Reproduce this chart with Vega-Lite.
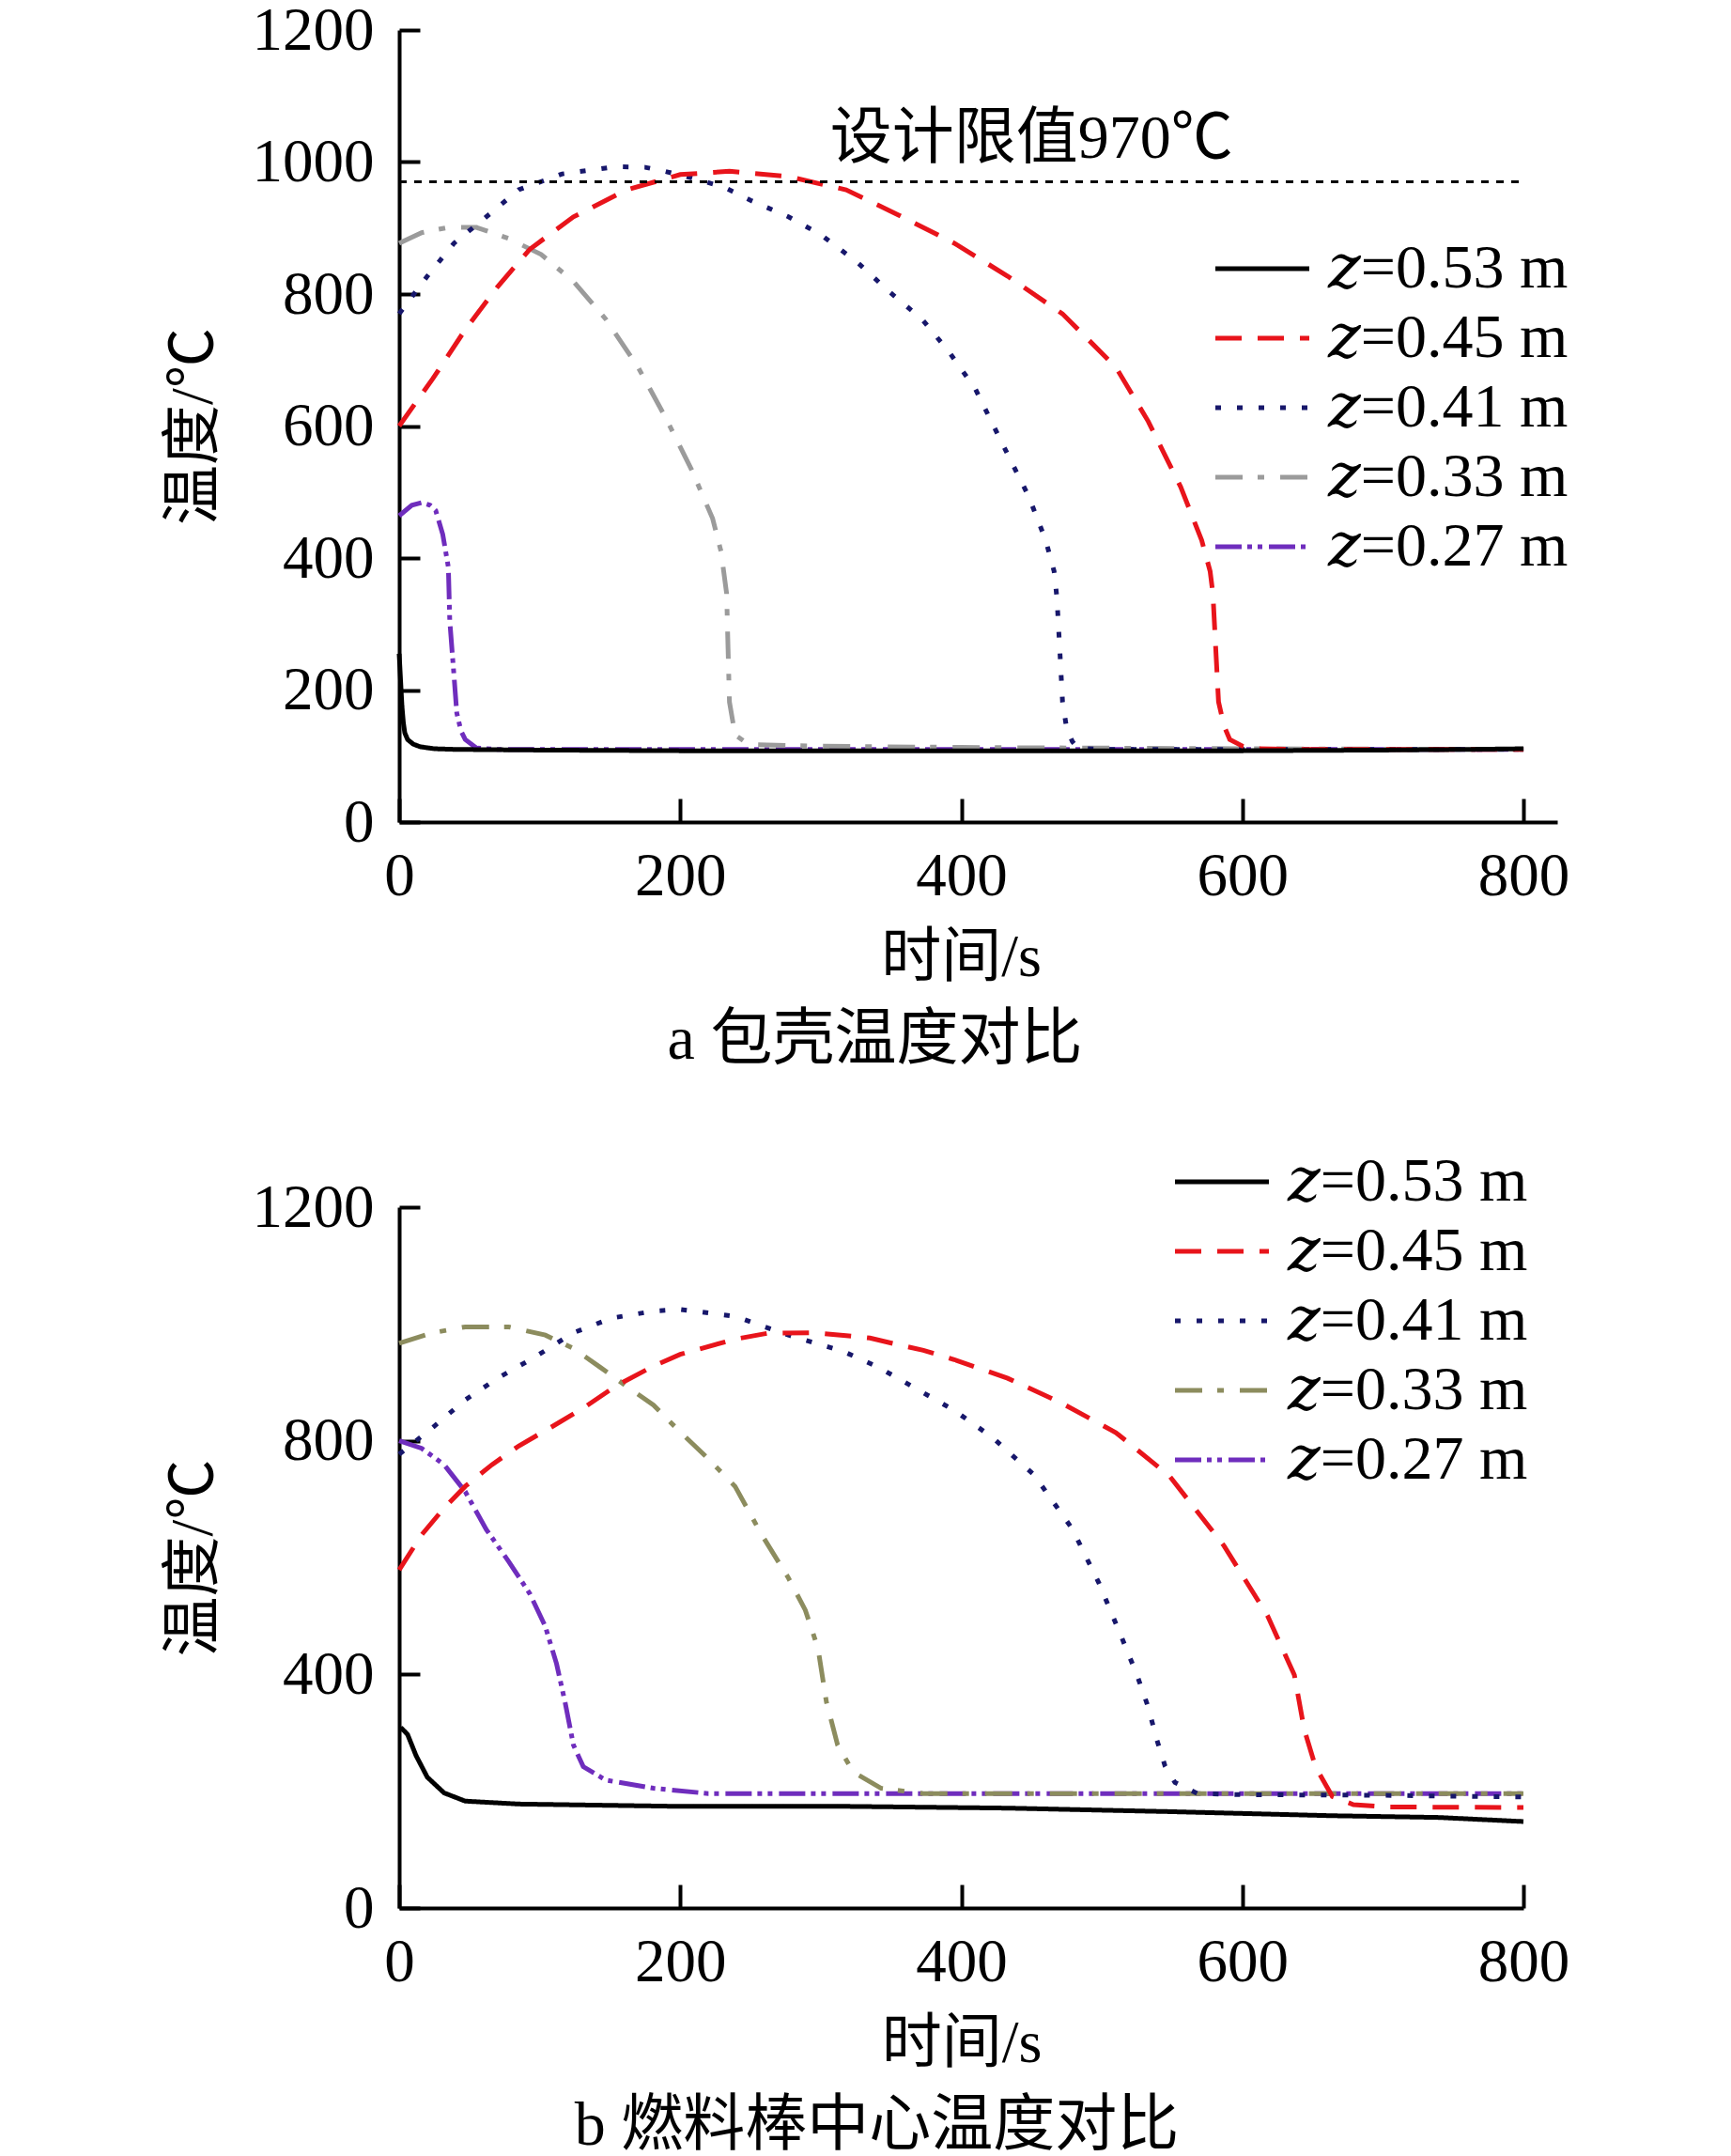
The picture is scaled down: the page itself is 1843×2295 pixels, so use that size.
{
  "$schema": "https://vega.github.io/schema/vega-lite/v6.json",
  "background": "white",
  "padding": {"left": 174, "top": 0, "right": 0, "bottom": 0},
  "spacing": 85,
  "datasets": {
    "a": [
      {"s": "𝑧=0.27 m", "t": 0, "T": 464}, {"s": "𝑧=0.27 m", "t": 9, "T": 480}, {"s": "𝑧=0.27 m", "t": 16, "T": 484}, {"s": "𝑧=0.27 m", "t": 22, "T": 480}, {"s": "𝑧=0.27 m", "t": 26, "T": 472}, {"s": "𝑧=0.27 m", "t": 31, "T": 436}, {"s": "𝑧=0.27 m", "t": 35, "T": 386}, {"s": "𝑧=0.27 m", "t": 36, "T": 305}, {"s": "𝑧=0.27 m", "t": 39, "T": 222}, {"s": "𝑧=0.27 m", "t": 41, "T": 165}, {"s": "𝑧=0.27 m", "t": 44, "T": 138}, {"s": "𝑧=0.27 m", "t": 47, "T": 125}, {"s": "𝑧=0.27 m", "t": 55, "T": 112}, {"s": "𝑧=0.27 m", "t": 70, "T": 110}, {"s": "𝑧=0.27 m", "t": 200, "T": 110}, {"s": "𝑧=0.27 m", "t": 400, "T": 110}, {"s": "𝑧=0.27 m", "t": 800, "T": 110},
      {"s": "𝑧=0.33 m", "t": 0, "T": 877}, {"s": "𝑧=0.33 m", "t": 16, "T": 893}, {"s": "𝑧=0.33 m", "t": 35, "T": 901}, {"s": "𝑧=0.33 m", "t": 55, "T": 901}, {"s": "𝑧=0.33 m", "t": 78, "T": 884}, {"s": "𝑧=0.33 m", "t": 101, "T": 860}, {"s": "𝑧=0.33 m", "t": 124, "T": 819}, {"s": "𝑧=0.33 m", "t": 147, "T": 762}, {"s": "𝑧=0.33 m", "t": 170, "T": 689}, {"s": "𝑧=0.33 m", "t": 189, "T": 615}, {"s": "𝑧=0.33 m", "t": 208, "T": 534}, {"s": "𝑧=0.33 m", "t": 223, "T": 460}, {"s": "𝑧=0.33 m", "t": 229, "T": 410}, {"s": "𝑧=0.33 m", "t": 233, "T": 346}, {"s": "𝑧=0.33 m", "t": 234, "T": 263}, {"s": "𝑧=0.33 m", "t": 235, "T": 182}, {"s": "𝑧=0.33 m", "t": 239, "T": 132}, {"s": "𝑧=0.33 m", "t": 247, "T": 120}, {"s": "𝑧=0.33 m", "t": 254, "T": 117}, {"s": "𝑧=0.33 m", "t": 300, "T": 115}, {"s": "𝑧=0.33 m", "t": 400, "T": 113}, {"s": "𝑧=0.33 m", "t": 500, "T": 112}, {"s": "𝑧=0.33 m", "t": 600, "T": 111}, {"s": "𝑧=0.33 m", "t": 800, "T": 110},
      {"s": "𝑧=0.41 m", "t": 0, "T": 770}, {"s": "𝑧=0.41 m", "t": 20, "T": 827}, {"s": "𝑧=0.41 m", "t": 39, "T": 877}, {"s": "𝑧=0.41 m", "t": 62, "T": 917}, {"s": "𝑧=0.41 m", "t": 85, "T": 958}, {"s": "𝑧=0.41 m", "t": 116, "T": 982}, {"s": "𝑧=0.41 m", "t": 154, "T": 993}, {"s": "𝑧=0.41 m", "t": 175, "T": 992}, {"s": "𝑧=0.41 m", "t": 189, "T": 986}, {"s": "𝑧=0.41 m", "t": 208, "T": 976}, {"s": "𝑧=0.41 m", "t": 231, "T": 962}, {"s": "𝑧=0.41 m", "t": 250, "T": 942}, {"s": "𝑧=0.41 m", "t": 277, "T": 917}, {"s": "𝑧=0.41 m", "t": 300, "T": 890}, {"s": "𝑧=0.41 m", "t": 326, "T": 848}, {"s": "𝑧=0.41 m", "t": 349, "T": 803}, {"s": "𝑧=0.41 m", "t": 372, "T": 762}, {"s": "𝑧=0.41 m", "t": 391, "T": 713}, {"s": "𝑧=0.41 m", "t": 410, "T": 656}, {"s": "𝑧=0.41 m", "t": 429, "T": 574}, {"s": "𝑧=0.41 m", "t": 448, "T": 493}, {"s": "𝑧=0.41 m", "t": 460, "T": 427}, {"s": "𝑧=0.41 m", "t": 466, "T": 380}, {"s": "𝑧=0.41 m", "t": 468, "T": 340}, {"s": "𝑧=0.41 m", "t": 470, "T": 263}, {"s": "𝑧=0.41 m", "t": 472, "T": 182}, {"s": "𝑧=0.41 m", "t": 475, "T": 141}, {"s": "𝑧=0.41 m", "t": 479, "T": 122}, {"s": "𝑧=0.41 m", "t": 483, "T": 112}, {"s": "𝑧=0.41 m", "t": 500, "T": 110}, {"s": "𝑧=0.41 m", "t": 600, "T": 110}, {"s": "𝑧=0.41 m", "t": 800, "T": 110},
      {"s": "𝑧=0.45 m", "t": 0, "T": 600}, {"s": "𝑧=0.45 m", "t": 24, "T": 672}, {"s": "𝑧=0.45 m", "t": 47, "T": 746}, {"s": "𝑧=0.45 m", "t": 70, "T": 811}, {"s": "𝑧=0.45 m", "t": 93, "T": 868}, {"s": "𝑧=0.45 m", "t": 124, "T": 917}, {"s": "𝑧=0.45 m", "t": 162, "T": 958}, {"s": "𝑧=0.45 m", "t": 200, "T": 981}, {"s": "𝑧=0.45 m", "t": 235, "T": 986}, {"s": "𝑧=0.45 m", "t": 277, "T": 978}, {"s": "𝑧=0.45 m", "t": 318, "T": 958}, {"s": "𝑧=0.45 m", "t": 355, "T": 920}, {"s": "𝑧=0.45 m", "t": 395, "T": 877}, {"s": "𝑧=0.45 m", "t": 433, "T": 827}, {"s": "𝑧=0.45 m", "t": 472, "T": 770}, {"s": "𝑧=0.45 m", "t": 510, "T": 689}, {"s": "𝑧=0.45 m", "t": 533, "T": 607}, {"s": "𝑧=0.45 m", "t": 556, "T": 508}, {"s": "𝑧=0.45 m", "t": 571, "T": 427}, {"s": "𝑧=0.45 m", "t": 577, "T": 380}, {"s": "𝑧=0.45 m", "t": 579, "T": 346}, {"s": "𝑧=0.45 m", "t": 581, "T": 263}, {"s": "𝑧=0.45 m", "t": 583, "T": 182}, {"s": "𝑧=0.45 m", "t": 587, "T": 145}, {"s": "𝑧=0.45 m", "t": 591, "T": 125}, {"s": "𝑧=0.45 m", "t": 600, "T": 115}, {"s": "𝑧=0.45 m", "t": 610, "T": 111}, {"s": "𝑧=0.45 m", "t": 640, "T": 110}, {"s": "𝑧=0.45 m", "t": 800, "T": 110},
      {"s": "𝑧=0.53 m", "t": 0, "T": 255}, {"s": "𝑧=0.53 m", "t": 1, "T": 215}, {"s": "𝑧=0.53 m", "t": 2, "T": 175}, {"s": "𝑧=0.53 m", "t": 3, "T": 150}, {"s": "𝑧=0.53 m", "t": 4, "T": 135}, {"s": "𝑧=0.53 m", "t": 6, "T": 125}, {"s": "𝑧=0.53 m", "t": 10, "T": 118}, {"s": "𝑧=0.53 m", "t": 15, "T": 114}, {"s": "𝑧=0.53 m", "t": 25, "T": 111}, {"s": "𝑧=0.53 m", "t": 40, "T": 110}, {"s": "𝑧=0.53 m", "t": 100, "T": 109}, {"s": "𝑧=0.53 m", "t": 200, "T": 108}, {"s": "𝑧=0.53 m", "t": 400, "T": 108}, {"s": "𝑧=0.53 m", "t": 600, "T": 108}, {"s": "𝑧=0.53 m", "t": 700, "T": 109}, {"s": "𝑧=0.53 m", "t": 760, "T": 110}, {"s": "𝑧=0.53 m", "t": 800, "T": 111}
    ],
    "b": [
      {"s": "𝑧=0.27 m", "t": 0, "T": 800}, {"s": "𝑧=0.27 m", "t": 16, "T": 787}, {"s": "𝑧=0.27 m", "t": 32, "T": 759}, {"s": "𝑧=0.27 m", "t": 47, "T": 713}, {"s": "𝑧=0.27 m", "t": 62, "T": 648}, {"s": "𝑧=0.27 m", "t": 78, "T": 593}, {"s": "𝑧=0.27 m", "t": 93, "T": 538}, {"s": "𝑧=0.27 m", "t": 104, "T": 482}, {"s": "𝑧=0.27 m", "t": 112, "T": 418}, {"s": "𝑧=0.27 m", "t": 118, "T": 353}, {"s": "𝑧=0.27 m", "t": 124, "T": 279}, {"s": "𝑧=0.27 m", "t": 131, "T": 242}, {"s": "𝑧=0.27 m", "t": 147, "T": 219}, {"s": "𝑧=0.27 m", "t": 181, "T": 205}, {"s": "𝑧=0.27 m", "t": 220, "T": 196}, {"s": "𝑧=0.27 m", "t": 400, "T": 196}, {"s": "𝑧=0.27 m", "t": 800, "T": 196},
      {"s": "𝑧=0.33 m", "t": 0, "T": 967}, {"s": "𝑧=0.33 m", "t": 24, "T": 985}, {"s": "𝑧=0.33 m", "t": 47, "T": 995}, {"s": "𝑧=0.33 m", "t": 78, "T": 995}, {"s": "𝑧=0.33 m", "t": 104, "T": 981}, {"s": "𝑧=0.33 m", "t": 124, "T": 958}, {"s": "𝑧=0.33 m", "t": 143, "T": 926}, {"s": "𝑧=0.33 m", "t": 162, "T": 893}, {"s": "𝑧=0.33 m", "t": 181, "T": 861}, {"s": "𝑧=0.33 m", "t": 200, "T": 815}, {"s": "𝑧=0.33 m", "t": 220, "T": 769}, {"s": "𝑧=0.33 m", "t": 239, "T": 722}, {"s": "𝑧=0.33 m", "t": 258, "T": 639}, {"s": "𝑧=0.33 m", "t": 277, "T": 565}, {"s": "𝑧=0.33 m", "t": 289, "T": 510}, {"s": "𝑧=0.33 m", "t": 298, "T": 445}, {"s": "𝑧=0.33 m", "t": 304, "T": 353}, {"s": "𝑧=0.33 m", "t": 312, "T": 279}, {"s": "𝑧=0.33 m", "t": 323, "T": 233}, {"s": "𝑧=0.33 m", "t": 343, "T": 205}, {"s": "𝑧=0.33 m", "t": 373, "T": 196}, {"s": "𝑧=0.33 m", "t": 500, "T": 196}, {"s": "𝑧=0.33 m", "t": 800, "T": 196},
      {"s": "𝑧=0.41 m", "t": 0, "T": 777}, {"s": "𝑧=0.41 m", "t": 24, "T": 823}, {"s": "𝑧=0.41 m", "t": 47, "T": 870}, {"s": "𝑧=0.41 m", "t": 70, "T": 907}, {"s": "𝑧=0.41 m", "t": 97, "T": 944}, {"s": "𝑧=0.41 m", "t": 124, "T": 985}, {"s": "𝑧=0.41 m", "t": 151, "T": 1010}, {"s": "𝑧=0.41 m", "t": 181, "T": 1022}, {"s": "𝑧=0.41 m", "t": 200, "T": 1025}, {"s": "𝑧=0.41 m", "t": 239, "T": 1013}, {"s": "𝑧=0.41 m", "t": 277, "T": 981}, {"s": "𝑧=0.41 m", "t": 316, "T": 953}, {"s": "𝑧=0.41 m", "t": 341, "T": 926}, {"s": "𝑧=0.41 m", "t": 368, "T": 889}, {"s": "𝑧=0.41 m", "t": 395, "T": 852}, {"s": "𝑧=0.41 m", "t": 422, "T": 806}, {"s": "𝑧=0.41 m", "t": 452, "T": 741}, {"s": "𝑧=0.41 m", "t": 479, "T": 649}, {"s": "𝑧=0.41 m", "t": 498, "T": 556}, {"s": "𝑧=0.41 m", "t": 514, "T": 464}, {"s": "𝑧=0.41 m", "t": 525, "T": 399}, {"s": "𝑧=0.41 m", "t": 533, "T": 344}, {"s": "𝑧=0.41 m", "t": 539, "T": 289}, {"s": "𝑧=0.41 m", "t": 545, "T": 243}, {"s": "𝑧=0.41 m", "t": 552, "T": 215}, {"s": "𝑧=0.41 m", "t": 568, "T": 196}, {"s": "𝑧=0.41 m", "t": 600, "T": 194}, {"s": "𝑧=0.41 m", "t": 700, "T": 193}, {"s": "𝑧=0.41 m", "t": 800, "T": 190},
      {"s": "𝑧=0.45 m", "t": 0, "T": 579}, {"s": "𝑧=0.45 m", "t": 16, "T": 639}, {"s": "𝑧=0.45 m", "t": 32, "T": 685}, {"s": "𝑧=0.45 m", "t": 47, "T": 722}, {"s": "𝑧=0.45 m", "t": 66, "T": 759}, {"s": "𝑧=0.45 m", "t": 85, "T": 791}, {"s": "𝑧=0.45 m", "t": 108, "T": 823}, {"s": "𝑧=0.45 m", "t": 131, "T": 856}, {"s": "𝑧=0.45 m", "t": 155, "T": 895}, {"s": "𝑧=0.45 m", "t": 181, "T": 928}, {"s": "𝑧=0.45 m", "t": 200, "T": 948}, {"s": "𝑧=0.45 m", "t": 239, "T": 974}, {"s": "𝑧=0.45 m", "t": 262, "T": 984}, {"s": "𝑧=0.45 m", "t": 296, "T": 985}, {"s": "𝑧=0.45 m", "t": 318, "T": 980}, {"s": "𝑧=0.45 m", "t": 335, "T": 976}, {"s": "𝑧=0.45 m", "t": 356, "T": 964}, {"s": "𝑧=0.45 m", "t": 373, "T": 955}, {"s": "𝑧=0.45 m", "t": 395, "T": 939}, {"s": "𝑧=0.45 m", "t": 433, "T": 907}, {"s": "𝑧=0.45 m", "t": 471, "T": 865}, {"s": "𝑧=0.45 m", "t": 510, "T": 814}, {"s": "𝑧=0.45 m", "t": 548, "T": 740}, {"s": "𝑧=0.45 m", "t": 587, "T": 620}, {"s": "𝑧=0.45 m", "t": 618, "T": 500}, {"s": "𝑧=0.45 m", "t": 637, "T": 399}, {"s": "𝑧=0.45 m", "t": 644, "T": 306}, {"s": "𝑧=0.45 m", "t": 652, "T": 242}, {"s": "𝑧=0.45 m", "t": 664, "T": 191}, {"s": "𝑧=0.45 m", "t": 679, "T": 177}, {"s": "𝑧=0.45 m", "t": 702, "T": 173}, {"s": "𝑧=0.45 m", "t": 800, "T": 172},
      {"s": "𝑧=0.53 m", "t": 0, "T": 305}, {"s": "𝑧=0.53 m", "t": 2, "T": 307}, {"s": "𝑧=0.53 m", "t": 6, "T": 297}, {"s": "𝑧=0.53 m", "t": 12, "T": 261}, {"s": "𝑧=0.53 m", "t": 20, "T": 224}, {"s": "𝑧=0.53 m", "t": 32, "T": 197}, {"s": "𝑧=0.53 m", "t": 47, "T": 183}, {"s": "𝑧=0.53 m", "t": 85, "T": 178}, {"s": "𝑧=0.53 m", "t": 200, "T": 174}, {"s": "𝑧=0.53 m", "t": 318, "T": 174}, {"s": "𝑧=0.53 m", "t": 433, "T": 171}, {"s": "𝑧=0.53 m", "t": 548, "T": 165}, {"s": "𝑧=0.53 m", "t": 664, "T": 158}, {"s": "𝑧=0.53 m", "t": 740, "T": 155}, {"s": "𝑧=0.53 m", "t": 800, "T": 148}
    ],
    "limit": [{"t0": 0, "t1": 800, "T": 970}],
    "note": [{"t": 450, "T": 1035, "label": "设计限值970℃"}]
  },
  "resolve": {
    "scale": {"color": "independent", "strokeDash": "independent"},
    "legend": {"color": "independent", "strokeDash": "independent"}
  },
  "vconcat": [
    {
      "width": 1233,
      "height": 843,
      "title": {"text": "a  包壳温度对比", "orient": "bottom", "fontSize": 66, "font": "Liberation Serif, Noto Sans CJK SC", "fontWeight": "normal", "color": "black", "offset": 24, "dx": -110},
      "layer": [
        {
          "data": {"name": "a"},
          "mark": {"type": "line", "strokeWidth": 5, "strokeCap": "butt"},
          "encoding": {
            "x": {"field": "t", "type": "quantitative", "scale": {"domain": [0, 824], "nice": false},
              "axis": {"values": [0, 200, 400, 600, 800], "format": "d", "title": "时间/s", "titleX": 598, "tickSize": -25, "labelPadding": 51, "titlePadding": 22}},
            "y": {"field": "T", "type": "quantitative", "scale": {"domain": [0, 1200], "nice": false},
              "axis": {"values": [0, 200, 400, 600, 800, 1000, 1200], "format": "d", "title": "温度/℃", "tickSize": -22, "labelPadding": 49, "titlePadding": 30}},
            "color": {"field": "s", "type": "nominal",
              "scale": {"domain": ["𝑧=0.53 m", "𝑧=0.45 m", "𝑧=0.41 m", "𝑧=0.33 m", "𝑧=0.27 m"], "range": ["#000000", "#e8141b", "#17176b", "#9b9b9b", "#6f2dbd"]},
              "legend": {"orient": "none", "legendX": 886, "legendY": 221, "title": null, "symbolType": "M-2,0H2", "symbolSize": 2500, "symbolStrokeWidth": 5, "labelOffset": 37, "rowPadding": 8, "labelFontSize": 66, "labelFont": "Liberation Serif, DejaVu Serif, DejaVu Sans", "labelColor": "black", "labelLimit": 500, "padding": 0}},
            "strokeDash": {"field": "s", "type": "nominal",
              "scale": {"domain": ["𝑧=0.53 m", "𝑧=0.45 m", "𝑧=0.41 m", "𝑧=0.33 m", "𝑧=0.27 m"], "range": [[1, 0], [28, 17], [6, 17], [29, 16, 7, 17], [28, 6, 5, 6, 5, 7]]},
              "legend": {"orient": "none", "legendX": 886, "legendY": 221, "title": null, "symbolType": "M-2,0H2", "symbolSize": 2500, "symbolStrokeWidth": 5, "labelOffset": 37, "rowPadding": 8, "labelFontSize": 66, "labelFont": "Liberation Serif, DejaVu Serif, DejaVu Sans", "labelColor": "black", "labelLimit": 500, "padding": 0}}
          }
        },
        {
          "data": {"name": "limit"},
          "mark": {"type": "rule", "color": "black", "strokeWidth": 3, "strokeDash": [8, 8]},
          "encoding": {
            "x": {"field": "t0", "type": "quantitative"},
            "x2": {"field": "t1"},
            "y": {"field": "T", "type": "quantitative"}
          }
        },
        {
          "data": {"name": "note"},
          "mark": {"type": "text", "fontSize": 66, "font": "Liberation Serif, Noto Sans CJK SC", "color": "black", "align": "center", "baseline": "middle"},
          "encoding": {
            "x": {"field": "t", "type": "quantitative"},
            "y": {"field": "T", "type": "quantitative"},
            "text": {"field": "label"}
          }
        }
      ]
    },
    {
      "width": 1197,
      "height": 746,
      "title": {"text": "b  燃料棒中心温度对比", "orient": "bottom", "fontSize": 66, "font": "Liberation Serif, Noto Sans CJK SC", "fontWeight": "normal", "color": "black", "offset": 24, "dx": -90},
      "layer": [
        {
          "data": {"name": "b"},
          "mark": {"type": "line", "strokeWidth": 5, "strokeCap": "butt"},
          "encoding": {
            "x": {"field": "t", "type": "quantitative", "scale": {"domain": [0, 800], "nice": false},
              "axis": {"values": [0, 200, 400, 600, 800], "format": "d", "title": "时间/s", "tickSize": -25, "labelPadding": 51, "titlePadding": 22}},
            "y": {"field": "T", "type": "quantitative", "scale": {"domain": [0, 1200], "nice": false},
              "axis": {"values": [0, 400, 800, 1200], "format": "d", "title": "温度/℃", "tickSize": -22, "labelPadding": 49, "titlePadding": 30}},
            "color": {"field": "s", "type": "nominal",
              "scale": {"domain": ["𝑧=0.53 m", "𝑧=0.45 m", "𝑧=0.41 m", "𝑧=0.33 m", "𝑧=0.27 m"], "range": ["#000000", "#e8141b", "#17176b", "#8c8c5e", "#6f2dbd"]},
              "legend": {"orient": "none", "legendX": 843, "legendY": -60, "title": null, "symbolType": "M-2,0H2", "symbolSize": 2500, "symbolStrokeWidth": 5, "labelOffset": 37, "rowPadding": 8, "labelFontSize": 66, "labelFont": "Liberation Serif, DejaVu Serif, DejaVu Sans", "labelColor": "black", "labelLimit": 500, "padding": 0}},
            "strokeDash": {"field": "s", "type": "nominal",
              "scale": {"domain": ["𝑧=0.53 m", "𝑧=0.45 m", "𝑧=0.41 m", "𝑧=0.33 m", "𝑧=0.27 m"], "range": [[1, 0], [28, 17], [6, 17], [29, 16, 7, 17], [28, 6, 5, 6, 5, 7]]},
              "legend": {"orient": "none", "legendX": 843, "legendY": -60, "title": null, "symbolType": "M-2,0H2", "symbolSize": 2500, "symbolStrokeWidth": 5, "labelOffset": 37, "rowPadding": 8, "labelFontSize": 66, "labelFont": "Liberation Serif, DejaVu Serif, DejaVu Sans", "labelColor": "black", "labelLimit": 500, "padding": 0}}
          }
        }
      ]
    }
  ],
  "config": {
    "view": {"stroke": null},
    "axis": {
      "grid": false,
      "domainColor": "black",
      "domainWidth": 4,
      "tickColor": "black",
      "tickWidth": 4,
      "labelColor": "black",
      "labelFont": "Liberation Serif",
      "labelFontSize": 65,
      "labelFlush": false,
      "labelOverlap": false,
      "titleColor": "black",
      "titleFont": "Liberation Serif, Noto Sans CJK SC",
      "titleFontSize": 64,
      "titleFontWeight": "normal"
    }
  }
}
